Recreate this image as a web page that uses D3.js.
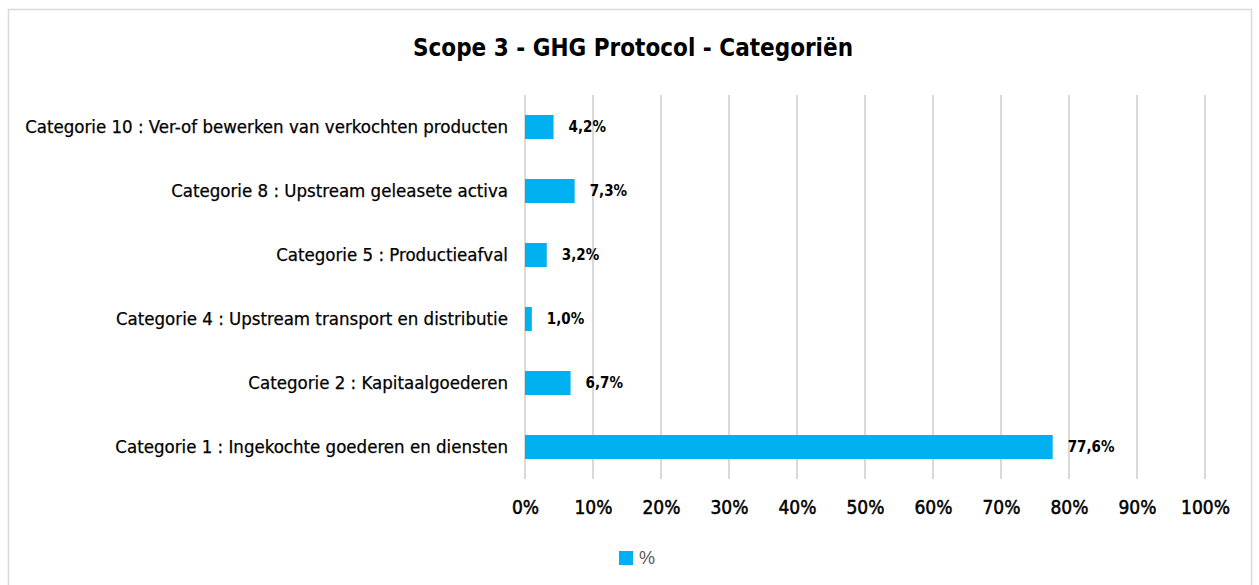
<!DOCTYPE html>
<html>
<head>
<meta charset="utf-8">
<script src="https://cdn.jsdelivr.net/npm/d3@7"></script>
<style>
  body { margin: 0; background: #fff; }
  svg text { font-family: "Liberation Sans Narrow", "DejaVu Sans Condensed", Roboto, sans-serif; }
</style>
</head>
<body>
<div id="chart"></div>
<script>
// data
var categories = [
  "Categorie 10 : Ver-of bewerken van verkochten producten",
  "Categorie 8 : Upstream geleasete activa",
  "Categorie 5 : Productieafval",
  "Categorie 4 : Upstream transport en distributie",
  "Categorie 2 : Kapitaalgoederen",
  "Categorie 1 : Ingekochte goederen en diensten"
];
var values = [4.2, 7.3, 3.2, 1.0, 6.7, 77.6];
var tickValues = [0, 10, 20, 30, 40, 50, 60, 70, 80, 90, 100];
var seriesName = "%";

var W = 1259, H = 585;
var margin = {top: 95, left: 525, right: 54, bottom: 106};
var width = W - margin.left - margin.right,
    height = H - margin.top - margin.bottom;

var svg = d3.select("#chart").append("svg")
    .attr("width", W)
    .attr("height", H);

// outer border
svg.append("rect")
  .attr("x", 8.5).attr("y", 9.5)
  .attr("width", 1243).attr("height", 600)
  .attr("fill", "none")
  .attr("stroke", "#d9d9d9")
  .attr("stroke-width", 1.5);

// title
svg.append("text")
  .attr("x", 633)
  .attr("y", 56)
  .attr("text-anchor", "middle")
  .style("font-size", "24px")
  .style("font-weight", "bold")
  .text("Scope 3 - GHG Protocol - Categoriën");

var g = svg.append("g")
  .attr("transform", "translate(" + margin.left + "," + margin.top + ")");

var x = d3.scaleLinear().domain([0, 100]).range([0, width]);
var y = d3.scaleBand().domain(categories).range([0, height]).paddingInner(0.625).paddingOuter(0.3125);

// gridlines
g.selectAll("line.grid")
  .data(tickValues)
  .enter()
  .append("line")
    .attr("class", "grid")
    .attr("x1", function(d) { return x(d); })
    .attr("x2", function(d) { return x(d); })
    .attr("y1", 0)
    .attr("y2", height)
    .attr("stroke", "#d9d9d9")
    .attr("stroke-width", 2);

// x axis
var xAxis = g.append("g")
  .attr("transform", "translate(0," + height + ")")
  .call(d3.axisBottom(x).tickValues(tickValues).tickSize(0).tickPadding(22)
    .tickFormat(function(d) { return d + "%"; }));
xAxis.select(".domain").remove();
xAxis.selectAll("text")
  .style("font-size", "19px")
  .attr("fill", "#000")
  .attr("stroke", "#000")
  .attr("stroke-width", 0.5);

// y axis
var yAxis = g.append("g")
  .call(d3.axisLeft(y).tickSize(0).tickPadding(17));
yAxis.select(".domain").remove();
yAxis.selectAll("text")
  .style("font-size", "18.5px")
  .attr("fill", "#000")
  .attr("stroke", "#000")
  .attr("stroke-width", 0.25);

// bars
g.selectAll("rect.bar")
  .data(values)
  .enter()
  .append("rect")
    .attr("class", "bar")
    .attr("x", x(0))
    .attr("y", function(d, i) { return y(categories[i]); })
    .attr("width", function(d) { return x(d) - x(0); })
    .attr("height", y.bandwidth())
    .attr("fill", "#00b0f0");

// value labels
g.selectAll("text.val")
  .data(values)
  .enter()
  .append("text")
    .attr("class", "val")
    .attr("x", function(d) { return x(d) + 15; })
    .attr("y", function(d, i) { return y(categories[i]) + y.bandwidth() / 2; })
    .attr("dy", "0.35em")
    .style("font-size", "15px")
    .style("font-weight", "bold")
    .text(function(d) { return d3.format(".1f")(d).replace(".", ",") + "%"; });

// legend
svg.append("rect")
  .attr("x", 619).attr("y", 551)
  .attr("width", 14).attr("height", 14)
  .attr("fill", "#00b0f0");
svg.append("text")
  .attr("x", 639)
  .attr("y", 558)
  .attr("dy", "0.35em")
  .style("font-family", "'Liberation Sans', Arial, sans-serif")
  .style("font-size", "18px")
  .attr("fill", "#595959")
  .text(seriesName);
</script>
</body>
</html>
